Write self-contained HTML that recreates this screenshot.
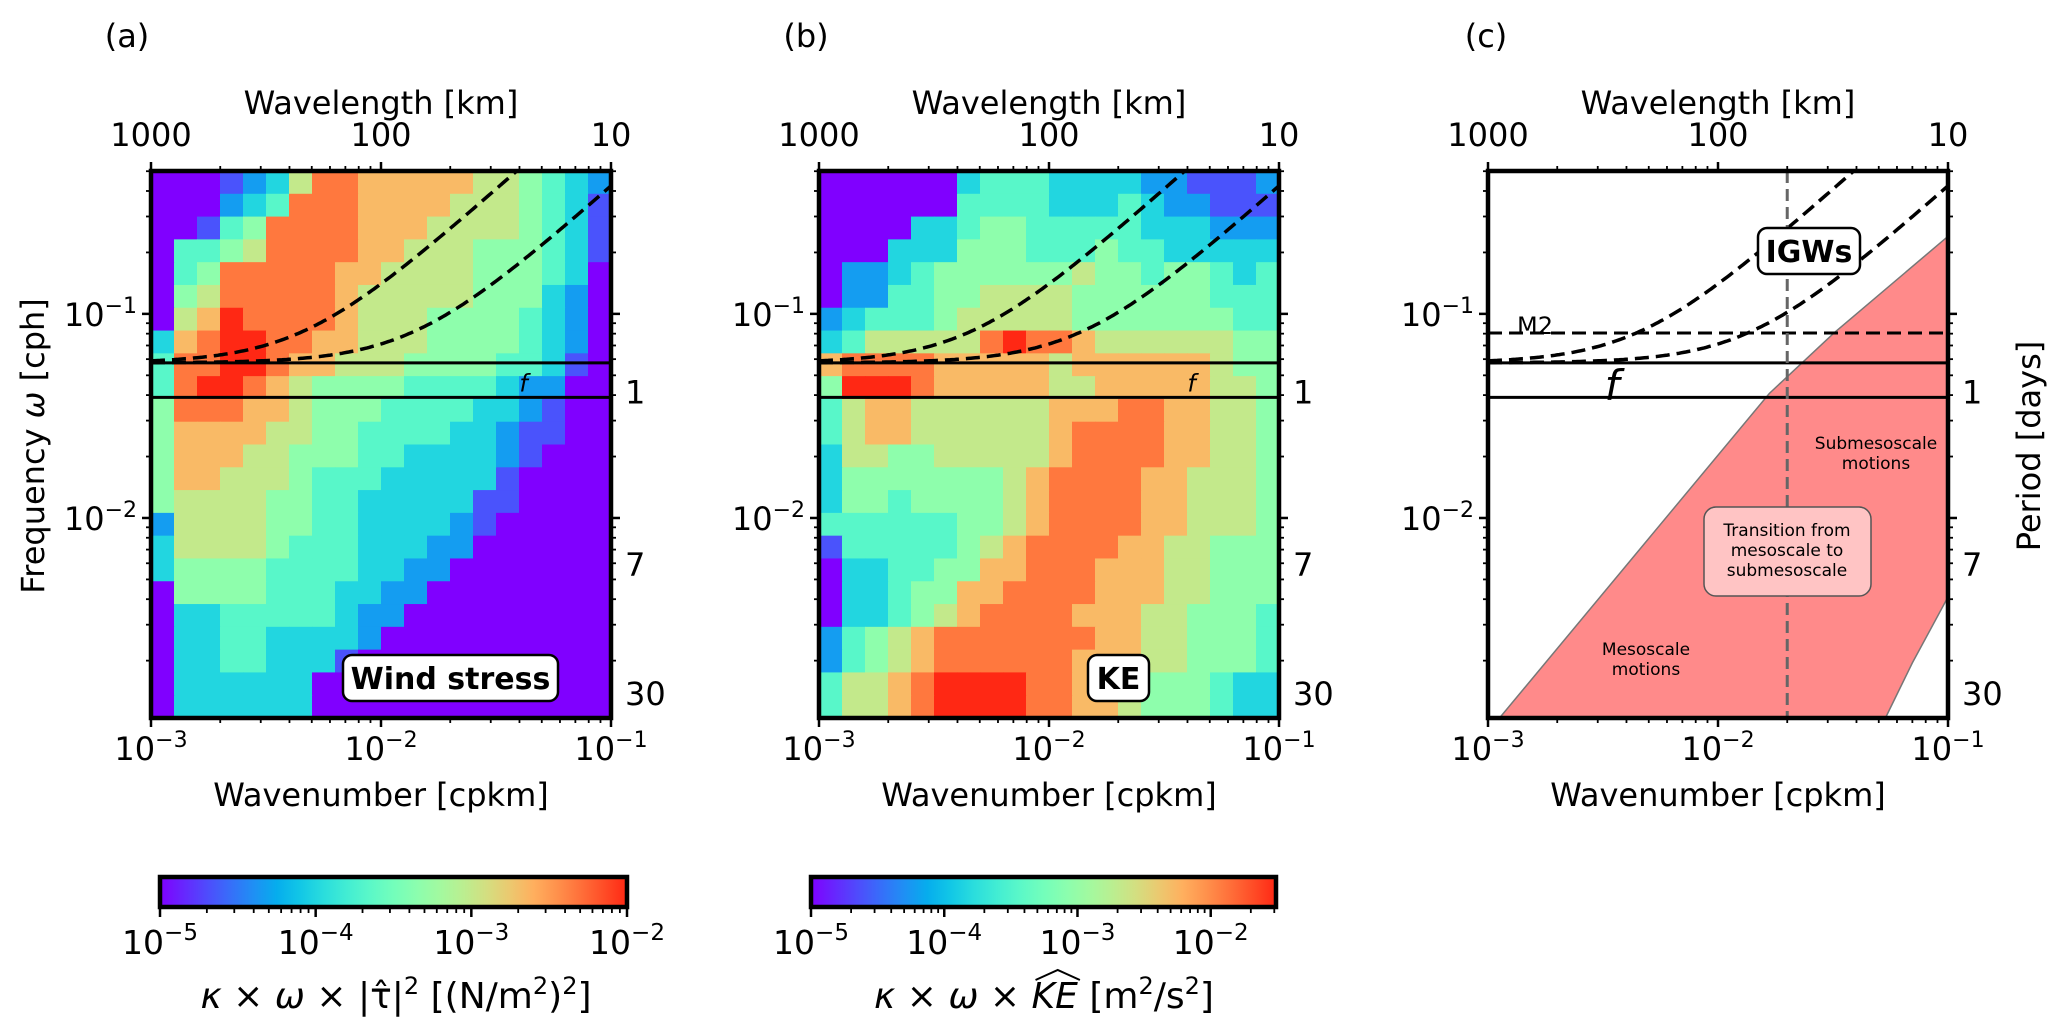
<!DOCTYPE html>
<html><head><meta charset="utf-8"><style>
html,body{margin:0;padding:0;background:#fff;}
svg text{font-family:"DejaVu Sans","Liberation Sans",sans-serif;fill:#000;}
</style></head><body>
<svg id="fig" width="2067" height="1029" viewBox="0 0 2067 1029" xmlns="http://www.w3.org/2000/svg">
<defs>
<linearGradient id="cmapGrad" x1="0" y1="0" x2="1" y2="0"></linearGradient>
</defs>
</svg>
<script>
// ---------- data ----------
const panelLabels = ["(a)", "(b)", "(c)"];
const xTickValues = [-3, -2, -1];
const xTickLabels = ["10", "10", "10"];
const xTickExps = ["−3", "−2", "−1"];
const topTickLabels = ["1000", "100", "10"];
const yTickValues = [-1, -2];
const yTickExps = ["−1", "−2"];
const periodDays = [1, 7, 30];
const periodLabels = ["1", "7", "30"];
const fUpper = 0.0575;   // cph
const fLower = 0.039;    // cph
const m2Freq = 0.0806;   // cph
const igwSpeeds = [12.8, 4.2]; // cph per cpkm
const transitionK = 0.02;
// heatmap levels (0=purple .. 9=red), rows top->bottom, cols left->right
const windLevels = [
[0,0,0,1,2,3,6,8,8,7,7,7,7,7,6,6,5,4,3,2],
[0,0,0,2,3,4,8,8,8,7,7,7,7,6,6,6,5,4,3,1],
[0,0,1,4,5,8,8,8,8,7,7,7,6,6,6,6,5,4,3,1],
[0,4,4,5,6,8,8,8,8,7,7,6,6,6,5,5,5,4,3,1],
[0,4,5,8,8,8,8,8,7,7,6,6,6,6,5,5,5,4,3,0],
[0,5,6,8,8,8,8,8,7,6,6,6,6,6,5,5,5,3,2,0],
[0,6,7,9,8,8,8,8,7,6,6,6,5,5,5,5,4,3,2,0],
[3,7,8,9,9,8,8,7,7,6,6,6,5,5,5,5,4,3,2,0],
[4,8,8,9,9,8,7,7,6,6,6,5,5,5,5,4,4,3,1,0],
[4,8,9,9,8,7,6,5,5,5,5,4,4,4,4,3,2,2,0,0],
[5,8,8,8,7,7,6,5,5,5,4,4,4,4,3,3,2,1,0,0],
[5,7,7,7,7,6,6,5,5,4,4,4,4,3,3,2,1,1,0,0],
[5,7,7,7,6,6,5,5,5,4,4,3,3,3,3,2,1,0,0,0],
[5,7,7,6,6,6,5,4,4,4,3,3,3,3,3,1,0,0,0,0],
[5,6,6,6,6,5,5,4,4,3,3,3,3,3,1,1,0,0,0,0],
[2,6,6,6,6,5,5,4,4,3,3,3,3,2,1,0,0,0,0,0],
[3,6,6,6,6,5,4,4,4,3,3,3,2,2,0,0,0,0,0,0],
[3,5,5,5,5,4,4,4,4,3,3,2,2,0,0,0,0,0,0,0],
[0,5,5,5,5,4,4,4,3,3,2,2,0,0,0,0,0,0,0,0],
[0,3,3,4,4,4,4,4,3,2,2,0,0,0,0,0,0,0,0,0],
[0,3,3,4,4,3,3,3,3,2,0,0,0,0,0,0,0,0,0,0],
[0,3,3,4,4,3,3,3,1,0,0,0,0,0,0,0,0,0,0,0],
[0,3,3,3,3,3,3,0,0,0,0,0,0,0,0,0,0,0,0,0],
[0,3,3,3,3,3,3,0,0,0,0,0,0,0,0,0,0,0,0,0]];
const keLevels = [
[0,0,0,0,0,0,3,4,4,4,3,3,3,3,2,2,1,1,1,2],
[0,0,0,0,0,0,4,4,4,4,3,3,3,4,3,2,2,1,1,1],
[0,0,0,0,3,3,4,5,5,4,4,4,4,4,3,3,3,2,2,2],
[0,0,0,3,3,3,5,5,5,4,4,4,5,4,4,3,3,3,3,3],
[0,2,2,3,4,5,5,5,5,5,5,6,5,5,4,5,5,4,3,4],
[0,2,2,4,4,5,5,6,6,6,6,5,5,5,5,5,5,4,4,4],
[2,3,4,4,4,5,6,6,6,6,6,5,5,5,5,5,5,5,4,4],
[3,4,6,6,6,6,6,8,9,8,8,7,6,6,6,6,6,6,5,5],
[7,8,8,8,8,7,7,7,7,7,6,7,7,7,7,7,7,6,5,5],
[5,9,9,9,8,7,7,7,7,7,6,6,7,7,7,7,7,6,6,5],
[4,6,7,7,6,6,6,6,6,6,7,7,7,8,8,7,7,6,6,5],
[4,6,7,7,6,6,6,6,6,6,7,8,8,8,8,7,7,6,6,5],
[3,6,6,5,5,6,6,6,6,6,7,8,8,8,8,7,7,6,6,5],
[3,5,5,5,5,5,5,5,6,7,8,8,8,8,7,7,6,6,6,5],
[3,5,5,4,5,5,5,5,6,7,8,8,8,8,7,7,6,6,6,5],
[4,4,4,4,4,4,5,5,6,7,8,8,8,8,7,7,6,6,6,5],
[1,4,4,4,4,4,5,6,7,8,8,8,8,7,7,6,6,5,5,5],
[0,3,3,4,4,5,5,7,7,8,8,8,7,7,7,6,6,5,5,5],
[0,3,3,4,5,5,7,7,8,8,8,8,7,7,7,6,6,5,5,5],
[0,3,3,4,5,6,7,8,8,8,8,7,7,7,6,6,5,5,5,4],
[2,4,5,6,7,8,8,8,8,8,8,8,7,7,6,6,5,5,5,4],
[2,4,5,6,7,8,8,8,8,8,8,7,7,7,6,6,5,5,5,4],
[4,6,6,7,8,9,9,9,9,8,8,7,7,6,5,5,5,4,3,3],
[4,6,6,7,8,9,9,9,9,8,8,7,7,6,5,5,5,4,3,3]];
// regime boundaries for panel (c): [log10 k, log10 omega]
const mesoUpper = [[-2.95,-2.98],[-1.777,-1.39],[-1.495,-1.093],[-1,-0.62]];
const mesoLower = [[-1.272,-2.98],[-1.155,-2.71],[-1,-2.387]];

// ---------- geometry ----------
const panelX0 = [151, 819, 1488];
const AX_W = 460, AX_TOP = 171, AX_BOT = 718;
const LK0 = -3, LK1 = -1, LW0 = -2.98, LW1 = -0.3;
const NS = "http://www.w3.org/2000/svg";
const svg = document.getElementById("fig");
function X(p, lk){ return panelX0[p] + (lk - LK0) / (LK1 - LK0) * AX_W; }
function Y(lw){ return AX_TOP + (LW1 - lw) / (LW1 - LW0) * (AX_BOT - AX_TOP); }
function mk(tag, attrs, parent){
  const e = document.createElementNS(NS, tag);
  for (const k in attrs) e.setAttribute(k, attrs[k]);
  (parent || svg).appendChild(e);
  return e;
}
function rainbow(t){
  const r = Math.min(1, Math.abs(2*t - 0.5)), g = Math.sin(Math.PI*t), b = Math.cos(Math.PI*t/2);
  return "rgb(" + Math.round(r*255) + "," + Math.round(Math.max(0,g)*255) + "," + Math.round(Math.max(0,b)*255) + ")";
}
function levelColor(l){ return rainbow(l / 9 * 0.95); }

// gradient
const grad = document.getElementById("cmapGrad");
for (let i = 0; i <= 20; i++){
  mk("stop", {offset: (i/20), "stop-color": rainbow(i/20*0.95)}, grad);
}

function drawHeatmap(p, levels, name){
  const g = mk("g", {});
  
  
  const nr = levels.length, nc = levels[0].length;
  for (let r = 0; r < nr; r++){
    for (let c = 0; c < nc; c++){
      const lk0 = LK0 + (LK1-LK0)*c/nc, lk1 = LK0 + (LK1-LK0)*(c+1)/nc;
      const lw0 = LW1 - (LW1-LW0)*r/nr, lw1 = LW1 - (LW1-LW0)*(r+1)/nr;
      const x = X(p, lk0), y = Y(lw0);
      const cell = mk("rect", {x: x, y: y, width: X(p,lk1)-x+0.6, height: Y(lw1)-y+0.6, fill: levelColor(levels[r][c])}, g);
      
      
    }
  }
}

function supText(x, y, base, exp, anchor, size, name){
  const t = mk("text", {x: x, y: y, "font-size": size, "text-anchor": anchor});
  
  
  t.appendChild(document.createTextNode(base));
  const s = mk("tspan", {"font-size": Math.round(size*0.7), dy: -Math.round(size*0.42)}, t);
  s.textContent = exp;
  return t;
}
function plainText(x, y, str, size, anchor, name, extra){
  const t = mk("text", Object.assign({x: x, y: y, "font-size": size, "text-anchor": anchor}, extra || {}));
  t.textContent = str;
  
  
  return t;
}

function drawCurves(p, clipId){
  const g = mk("g", {"clip-path": "url(#" + clipId + ")"});
  
  
  igwSpeeds.forEach((c, i) => {
    let d = "";
    for (let j = 0; j <= 200; j++){
      const lk = LK0 + (LK1-LK0)*j/200, k = Math.pow(10, lk);
      const w = Math.sqrt(fUpper*fUpper + c*c*k*k);
      d += (j ? "L" : "M") + X(p, lk).toFixed(1) + "," + Y(Math.log10(w)).toFixed(1);
    }
    const path = mk("path", {d: d, fill: "none", stroke: "#000", "stroke-width": 3.5, "stroke-dasharray": "14,7"}, g);
    
    
  });
  [fUpper, fLower].forEach((f, i) => {
    const l = mk("line", {x1: X(p,LK0), x2: X(p,LK1), y1: Y(Math.log10(f)), y2: Y(Math.log10(f)), stroke: "#000", "stroke-width": 3}, g);
    
    
  });
}

function drawAxes(p){
  const x0 = X(p, LK0), x1 = X(p, LK1);
  const g = mk("g", {});
  
  
  for (let dec = -3; dec <= -1; dec++){
    for (let m = 1; m <= 9; m++){
      const lk = dec + Math.log10(m);
      if (lk > -1 + 1e-9) continue;
      const x = X(p, lk), L = m === 1 ? 9 : 5;
      mk("line", {x1: x, x2: x, y1: AX_BOT, y2: AX_BOT + L, stroke: "#000", "stroke-width": m===1?2.5:1.8}, g);
      mk("line", {x1: x, x2: x, y1: AX_TOP, y2: AX_TOP - L, stroke: "#000", "stroke-width": m===1?2.5:1.8}, g);
    }
  }
  for (let dec = -3; dec <= -1; dec++){
    for (let m = 1; m <= 9; m++){
      const lw = dec + Math.log10(m);
      if (lw < LW0 || lw > LW1) continue;
      const y = Y(lw), L = m === 1 ? 9 : 5;
      mk("line", {x1: x0, x2: x0 - L, y1: y, y2: y, stroke: "#000", "stroke-width": m===1?2.5:1.8}, g);
      mk("line", {x1: x1, x2: x1 + L, y1: y, y2: y, stroke: "#000", "stroke-width": m===1?2.5:1.8}, g);
    }
  }
  const fr = mk("rect", {x: x0, y: AX_TOP, width: x1-x0, height: AX_BOT-AX_TOP, fill: "none", stroke: "#000", "stroke-width": 4.5});
  
  
  xTickValues.forEach((v, i) => {
    supText(X(p, v), 760, xTickLabels[i], xTickExps[i], "middle", 32, 'x-tick-label');
    plainText(X(p, v), 146, topTickLabels[i], 32, "middle", 'top-tick-label');
  });
  yTickValues.forEach((v, i) => {
    supText(x0 - 14, Y(v) + 12, "10", yTickExps[i], "end", 32, 'y-tick-label');
  });
  periodDays.forEach((d, i) => {
    plainText(x1 + 14, Y(Math.log10(1/(24*d))) + 12, periodLabels[i], 32, "start", 'period-tick-label');
  });
  plainText((x0+x1)/2, 114, "Wavelength [km]", 32, "middle", 'top-axis-title');
  plainText((x0+x1)/2, 806, "Wavenumber [cpkm]", 32, "middle", 'x-axis-title');
}

function clip(p, id){
  const defs = svg.querySelector("defs");
  const cp = mk("clipPath", {id: id}, defs);
  mk("rect", {x: X(p,LK0), y: AX_TOP, width: AX_W, height: AX_BOT-AX_TOP}, cp);
}

// ----- panel a -----
clip(0, "clipA"); clip(1, "clipB"); clip(2, "clipC");
drawHeatmap(0, windLevels, 'wind-stress-heatmap');
drawCurves(0, "clipA");
drawAxes(0);
plainText(X(0,-1.38), Y(Math.log10(fLower)) - 6, "f", 24, "middle", 'f-label', {"font-style": "italic"});
// ----- panel b -----
drawHeatmap(1, keLevels, 'ke-heatmap');
drawCurves(1, "clipB");
drawAxes(1);
plainText(X(1,-1.38), Y(Math.log10(fLower)) - 6, "f", 24, "middle", 'f-label', {"font-style": "italic"});
// ----- panel c -----
(function(){
  const g = mk("g", {"clip-path": "url(#clipC)"});
  
  
  let d = "";
  mesoUpper.forEach((pt, i) => { d += (i ? "L" : "M") + X(2, pt[0]) + "," + Y(pt[1]); });
  for (let i = mesoLower.length - 1; i >= 0; i--) d += "L" + X(2, mesoLower[i][0]) + "," + Y(mesoLower[i][1]);
  d += "Z";
  const reg = mk("path", {d: d, fill: "#ff8a8a", stroke: "#777", "stroke-width": 1.5}, g);
  
  
})();
drawCurves(2, "clipC");
(function(){
  const m2 = mk("line", {x1: X(2,LK0), x2: X(2,LK1), y1: Y(Math.log10(m2Freq)), y2: Y(Math.log10(m2Freq)), stroke: "#000", "stroke-width": 3, "stroke-dasharray": "14,7"});
  
  
  const vx = X(2, Math.log10(transitionK));
  const vl = mk("line", {x1: vx, x2: vx, y1: AX_TOP, y2: AX_BOT, stroke: "#666", "stroke-width": 3, "stroke-dasharray": "12,6"});
  
  
})();
drawAxes(2);
plainText(1517, 334, "M2", 24, "start", 'm2-label');
plainText(1612, 400, "f", 42, "middle", 'f-label', {"font-style": "italic"});
plainText(1876, 449, "Submesoscale", 17, "middle", 'submesoscale-label');
plainText(1876, 469, "motions", 17, "middle", 'submesoscale-label-2');
plainText(1646, 655, "Mesoscale", 17, "middle", 'mesoscale-label');
plainText(1646, 675, "motions", 17, "middle", 'mesoscale-label-2');
(function(){
  const b = mk("rect", {x: 1704, y: 507, width: 167, height: 89, rx: 12, fill: "#ffc4c4", stroke: "#555", "stroke-width": 1.5});
  
  
  plainText(1787, 536, "Transition from", 17, "middle", 'transition-label');
  plainText(1787, 556, "mesoscale to", 17, "middle", 'transition-label-2');
  plainText(1787, 576, "submesoscale", 17, "middle", 'transition-label-3');
})();

function labelBox(x, y, w, h, str, name){
  const r = mk("rect", {x: x, y: y, width: w, height: h, rx: 9, fill: "#fff", stroke: "#000", "stroke-width": 2.5});
  
  
  plainText(x + w/2, y + h/2 + 11, str, 30, "middle", name + '-text', {"font-weight": "bold"});
}
labelBox(343, 655, 215, 46, "Wind stress", 'wind-stress');
labelBox(1088, 655, 61, 46, "KE", 'ke');
labelBox(1758, 228, 102, 46, "IGWs", 'igws');

panelLabels.forEach((s, i) => plainText([127, 806, 1486][i], 47, s, 32, "middle", 'panel-label'));
(function(){
  const t = plainText(0, 0, "", 32, "middle", 'y-axis-title', {transform: "translate(44,446) rotate(-90)", "font-family": "Liberation Sans, sans-serif"});
  t.appendChild(document.createTextNode("Frequency "));
  const s = mk("tspan", {"font-style": "italic"}, t); s.textContent = "ω";
  t.appendChild(document.createTextNode(" [cph]"));
  plainText(0, 0, "Period [days]", 32, "middle", 'right-axis-title', {transform: "translate(2040,446) rotate(-90)", "font-family": "Liberation Sans, sans-serif"});
})();

// colorbars
const cbarRanges = [[-5, -2], [-5, -1.51]];
const cbarX = [[160, 627], [811, 1276]];
const cbarExps = [["−5","−4","−3","−2"], ["−5","−4","−3","−2"]];
cbarRanges.forEach((rg, i) => {
  const [xa, xb] = cbarX[i];
  const g = mk("g", {});
  
  
  mk("rect", {x: xa, y: 877, width: xb - xa, height: 30, fill: "url(#cmapGrad)", stroke: "#000", "stroke-width": 4.5}, g);
  const cx = v => xa + (v - rg[0]) / (rg[1] - rg[0]) * (xb - xa);
  for (let dec = -5; dec <= -1; dec++){
    for (let m = 1; m <= 9; m++){
      const v = dec + Math.log10(m);
      if (v > rg[1] + 1e-9) continue;
      mk("line", {x1: cx(v), x2: cx(v), y1: 907, y2: 907 + (m===1 ? 10 : 6), stroke: "#000", "stroke-width": m===1?2.5:1.8}, g);
    }
  }
  for (let dec = -5; dec <= -2; dec++){
    supText(cx(dec), 954, "10", cbarExps[i][dec+5], "middle", 33, 'colorbar-tick-label');
  }
});
(function(){
  const t = plainText(396, 1008, "", 36, "middle", 'colorbar-title-wind');
  const a = mk("tspan", {"font-style": "italic"}, t); a.textContent = "κ";
  t.appendChild(document.createTextNode(" × "));
  const b = mk("tspan", {"font-style": "italic"}, t); b.textContent = "ω";
  t.appendChild(document.createTextNode(" × |τ̂|"));
  const s1 = mk("tspan", {"font-size": 24, dy: -14}, t); s1.textContent = "2";
  const r = mk("tspan", {dy: 14}, t); r.textContent = " [(N/m";
  const s2 = mk("tspan", {"font-size": 24, dy: -14}, t); s2.textContent = "2";
  const r2 = mk("tspan", {dy: 14}, t); r2.textContent = ")";
  const s3 = mk("tspan", {"font-size": 24, dy: -14}, t); s3.textContent = "2";
  const r3 = mk("tspan", {dy: 14}, t); r3.textContent = "]";

  const u = plainText(1044, 1008, "", 36, "middle", 'colorbar-title-ke');
  const a2 = mk("tspan", {"font-style": "italic"}, u); a2.textContent = "κ";
  u.appendChild(document.createTextNode(" × "));
  const b2 = mk("tspan", {"font-style": "italic"}, u); b2.textContent = "ω";
  u.appendChild(document.createTextNode(" × "));
  const k = mk("tspan", {"font-style": "italic"}, u); k.textContent = "KE";
  u.appendChild(document.createTextNode(" [m"));
  const q1 = mk("tspan", {"font-size": 24, dy: -14}, u); q1.textContent = "2";
  const q2 = mk("tspan", {dy: 14}, u); q2.textContent = "/s";
  const q3 = mk("tspan", {"font-size": 24, dy: -14}, u); q3.textContent = "2";
  const q4 = mk("tspan", {dy: 14}, u); q4.textContent = "]";
  let hx0 = 1000, hx1 = 1048;
  try {
    const p0 = k.getStartPositionOfChar(0);
    const p1 = k.getEndPositionOfChar(1);
    hx0 = p0.x + 4; hx1 = p1.x + 2;
  } catch(e) {}
  const hm = (hx0 + hx1) / 2;
  const hat = mk("path", {d: "M" + hx0 + ",980 L" + hm + ",970 L" + hx1 + ",980", fill: "none", stroke: "#000", "stroke-width": 2});
  
  
})();
</script>
</body></html>
